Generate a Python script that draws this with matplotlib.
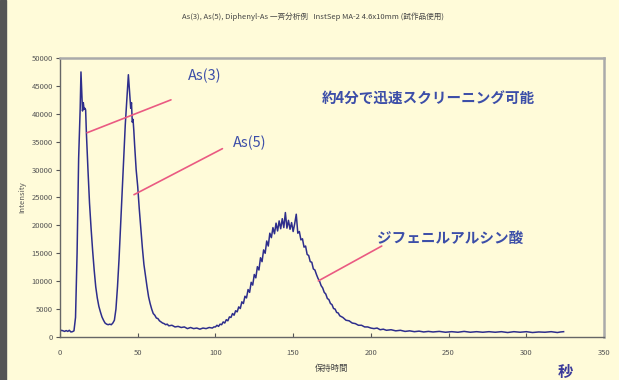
import matplotlib
matplotlib.use('Agg')
from matplotlib import pyplot as plt
from matplotlib.patches import Rectangle

plt.rcParams['font.family'] = ['Noto Sans CJK JP', 'DejaVu Sans']

# Chromatogram trace: retention time (s) and intensity
time_s = [0, 1, 2, 3, 4, 5, 6, 7, 8, 9, 10, 11, 12, 13, 13.5, 14, 14.5, 15, 15.5, 16, 16.5,
          17, 17.5, 18, 19, 20, 21, 22, 23, 24, 25, 26, 27, 28, 29, 30, 31, 32, 33, 34,
          35, 36, 37, 38, 39, 40, 41, 42, 43, 43.5, 44, 44.5, 45, 45.5, 46, 46.5, 47, 47.5,
          48, 49, 50, 51, 52, 53, 54, 55, 56, 57, 58, 59,
          60, 61, 62, 63, 64, 65, 66, 67, 68, 69, 70, 72, 74, 76, 78, 80, 82, 84, 86, 88,
          90, 92, 94, 96, 98, 99,
          100, 101, 102, 103, 104, 105, 106, 107, 108, 109, 110, 111, 112, 113, 114, 115,
          116, 117, 118, 119, 120, 121, 122, 123, 124, 125, 126, 127, 128, 129, 130, 131,
          132, 133, 134, 135, 136, 137, 138, 139, 140, 141, 142, 143, 144, 145, 146, 147,
          148, 149, 150, 151, 152, 153, 154, 155, 156, 157, 158, 159, 160, 161, 162, 163,
          164, 165, 166, 167, 168, 169, 170, 171, 172, 173, 174, 175, 176, 177, 178, 179,
          180, 182, 184, 186, 188, 190, 192, 194, 196, 198, 200,
          202, 204, 206, 208, 210, 213, 216, 219, 222, 225, 228, 231, 234, 237, 240, 244,
          248, 252, 256, 260, 264, 268, 272, 276, 280, 284, 288, 292, 296, 300, 304, 308,
          312, 316, 320, 322, 324]
intensity = [1000, 1200, 1100, 1000, 1150, 1000, 1200, 900, 950, 1100, 3500, 15000, 32000, 41000, 47500, 44000, 40500, 42000, 40800, 41000, 40700,
             36500, 33000, 30000, 24000, 19500, 15500, 12000, 9000, 7000, 5500, 4500, 3600, 3000, 2500, 2300, 2200, 2300, 2200, 2500,
             3000, 5000, 9000, 14000, 20000, 26000, 32000, 38000, 42500, 44500, 47000, 45000, 43000, 41000, 42000, 38500, 39000, 37000,
             34500, 30000, 27000, 23000, 19500, 16000, 13000, 11000, 9000, 7200, 6000, 5000,
             4200, 3900, 3400, 3300, 2900, 2700, 2500, 2400, 2200, 2300, 2000, 2100, 1800, 1900, 1700, 1800, 1500, 1700, 1500, 1600,
             1400, 1600, 1500, 1700, 1600, 1800,
             1800, 2100, 1900, 2300, 2200, 2700, 2500, 3100, 2900, 3600, 3500, 4200, 3900, 4700, 4500, 5400,
             5100, 6300, 6000, 7300, 7000, 8500, 8000, 9800, 9300, 11200, 10600, 12600, 12000, 14200, 13500, 15600,
             15000, 17200, 16300, 18600, 17800, 19600, 18500, 20400, 19000, 20800, 19400, 21200, 19600, 22300, 19500, 20900,
             19300, 20500, 18900, 20300, 22000, 18600, 18900, 17400, 17600, 16100, 16300, 14800, 14600, 13500, 13400, 12200,
             12000, 11200, 10500, 10000, 9200, 8800, 8000, 7700, 6900, 6700, 6000, 5800, 5100, 5000, 4400, 4300,
             3800, 3500, 3000, 2900, 2500, 2400, 2100, 2100, 1800, 1800, 1600,
             1500, 1600, 1300, 1400, 1200, 1300, 1100, 1200, 1000, 1100, 950, 1050, 900, 1000, 900, 1000,
             850, 950, 850, 1000, 850, 950, 850, 950, 850, 950, 800, 950, 850, 950, 800, 900,
             850, 950, 800, 900, 950]

x_ticks = [0, 50, 100, 150, 200, 250, 300, 350]
y_ticks = [0, 5000, 10000, 15000, 20000, 25000, 30000, 35000, 40000, 45000, 50000]

# peak labels: (text, point on trace, end of pointer line, text anchor)
peak_labels = [
    ('As(3)', (17.4, 36600), (71.4, 42500), (82.4, 46800)),
    ('As(5)', (47.6, 25500), (104.5, 33750), (111.3, 34700)),
    ('ジフェニルアルシン酸', (166.2, 10050), (207, 16300), (203.8, 17700)),
]

bg = '#fffbd9'
label_col = '#3c4ea8'
pink = '#ea5a82'

fig = plt.figure(figsize=(6.19, 3.8), dpi=100, facecolor=bg)
ax = fig.add_axes([0.0969, 0.1132, 0.8789, 0.7342], facecolor=bg)

# dark bar down the left edge
fig.patches.append(Rectangle((0, 0), 0.009, 1, transform=fig.transFigure,
                             color='#555555', zorder=0))

ax.plot(time_s, intensity, color='#2e2e8c', lw=1.1)

ax.set_xlim(0, 350)
ax.set_ylim(0, 50000)
ax.set_xticks(x_ticks)
ax.set_yticks(y_ticks)
ax.tick_params(axis='x', direction='in', length=3, labelsize=5.5,
               labelcolor='#555555', color='#555555', pad=9)
ax.tick_params(axis='y', direction='out', length=3, labelsize=5.5,
               labelcolor='#555555', color='#555555', pad=2)
for side in ['top', 'right']:
    ax.spines[side].set_color('#aaaaaa')
    ax.spines[side].set_linewidth(1.8)
for side in ['left', 'bottom']:
    ax.spines[side].set_color('#666666')
    ax.spines[side].set_linewidth(1.0)

ax.set_ylabel('Intensity', fontsize=5.5, color='#555555', labelpad=4)
ax.set_xlabel('保持時間', fontsize=6, color='#444444', labelpad=5)

fig.text(0.506, 0.955, 'As(3), As(5), Diphenyl-As 一斉分析例   InstSep MA-2 4.6x10mm (試作品使用)',
         ha='center', va='center', fontsize=5.5, color='#444444')
fig.text(0.913, 0.02, '秒', ha='center', va='center', fontsize=11,
         color='#3a3a9a', fontweight='bold')

for text, pt, end, anchor in peak_labels:
    ax.annotate('', xy=pt, xytext=end,
                arrowprops=dict(arrowstyle='-', color=pink, lw=1.2,
                                shrinkA=0, shrinkB=0))
    weight = 'bold' if text.startswith('ジ') else 'normal'
    ax.text(anchor[0], anchor[1], text, fontsize=10.5, color=label_col,
            va='center', ha='left', fontweight=weight)

ax.text(168.4, 42800, '約4分で迅速スクリーニング可能', fontsize=10.5, color=label_col,
        va='center', ha='left', fontweight='bold')

fig.savefig('out.png', dpi=100, facecolor=bg)
